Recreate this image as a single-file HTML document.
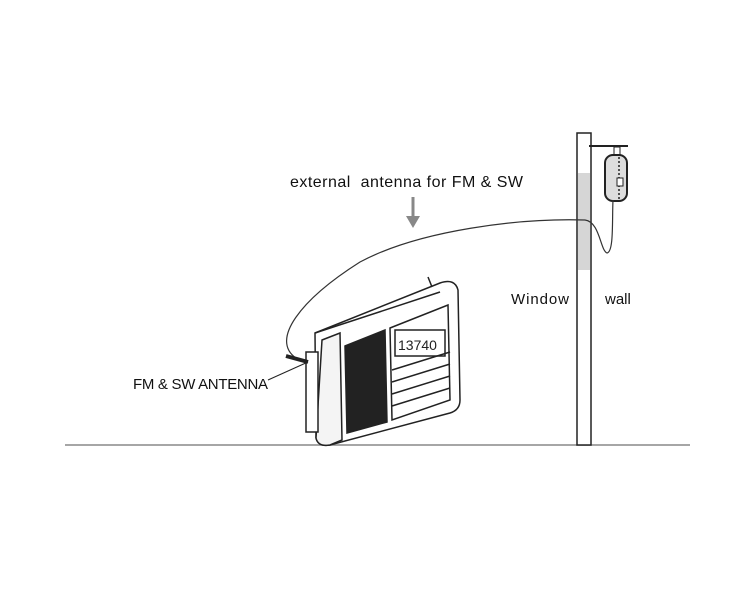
<!DOCTYPE html>
<html><head><style>body{margin:0;background:#fff}svg{display:block}</style></head><body>
<svg width="750" height="600" viewBox="0 0 750 600" xmlns="http://www.w3.org/2000/svg" font-family="Liberation Sans, sans-serif">
<rect width="750" height="600" fill="#fff"/>
<line x1="65" y1="445" x2="690" y2="445" stroke="#888" stroke-width="1.5"/>
<!-- pole -->
<rect x="577" y="133" width="14" height="312" fill="#fff" stroke="#222" stroke-width="1.5"/>
<rect x="578" y="173" width="12" height="97" fill="#d6d6d6"/>
<line x1="589" y1="146" x2="628" y2="146" stroke="#222" stroke-width="2"/>
<rect x="614" y="147" width="6" height="8" fill="#fff" stroke="#222"/>
<rect x="605" y="155" width="22" height="46" rx="8" fill="#ddd" stroke="#222" stroke-width="2"/>
<line x1="619" y1="157" x2="619" y2="199" stroke="#222" stroke-width="1.5" stroke-dasharray="2,2"/>
<rect x="617" y="178" width="6" height="8" fill="#fff" stroke="#222"/>
<!-- cable -->
<path d="M296 358 C270 340 300 300 360 262 C420 230 520 218 585 220 C600 222 600 250 607 253 C614 252 612 220 613 200" fill="none" stroke="#333" stroke-width="1.2"/>
<!-- radio -->
<g stroke="#222" stroke-width="1.5" fill="#fff">
<path d="M315 333 L440 283 Q455 278 458 290 L460 400 Q460 410 450 413 L330 445 Q318 447 316 438 Z"/>
<path d="M322 340 L340 333 L342 440 L330 445 Q318 447 316 438 Z" fill="#f4f4f4"/>
<path d="M345 346 L385 330 L387 422 L347 433 Z" fill="#222"/>
<path d="M390 328 L448 305 L450 400 L392 420 Z" fill="#fff"/>
<rect x="395" y="330" width="50" height="26" fill="#fff"/>
<line x1="392" y1="370" x2="450" y2="352" />
<line x1="392" y1="382" x2="450" y2="364" />
<line x1="392" y1="394" x2="450" y2="376" />
<line x1="392" y1="406" x2="450" y2="388" />
<line x1="315" y1="333" x2="440" y2="292"/>
<line x1="428" y1="277" x2="432" y2="287"/>
<rect x="306" y="352" width="12" height="80" fill="#fff"/>
</g>
<text x="398" y="350" font-size="14" fill="#222">13740</text>
<path d="M286 356 L308 362" stroke="#222" stroke-width="4"/>
<line x1="268" y1="380" x2="308" y2="362" stroke="#222" stroke-width="1"/>
<!-- labels -->
<text x="290" y="187" font-size="16" fill="#111" textLength="233" lengthAdjust="spacing" xml:space="preserve">external  antenna for FM &amp; SW</text>
<line x1="413" y1="197" x2="413" y2="218" stroke="#888" stroke-width="3"/>
<polygon points="406,216 420,216 413,228" fill="#888"/>
<text x="511" y="304" font-size="15" fill="#111" textLength="58">Window</text>
<text x="605" y="304" font-size="15" fill="#111">wall</text>
<text x="133" y="389" font-size="15" fill="#111" textLength="135">FM &amp; SW ANTENNA</text>
</svg>
</body></html>
